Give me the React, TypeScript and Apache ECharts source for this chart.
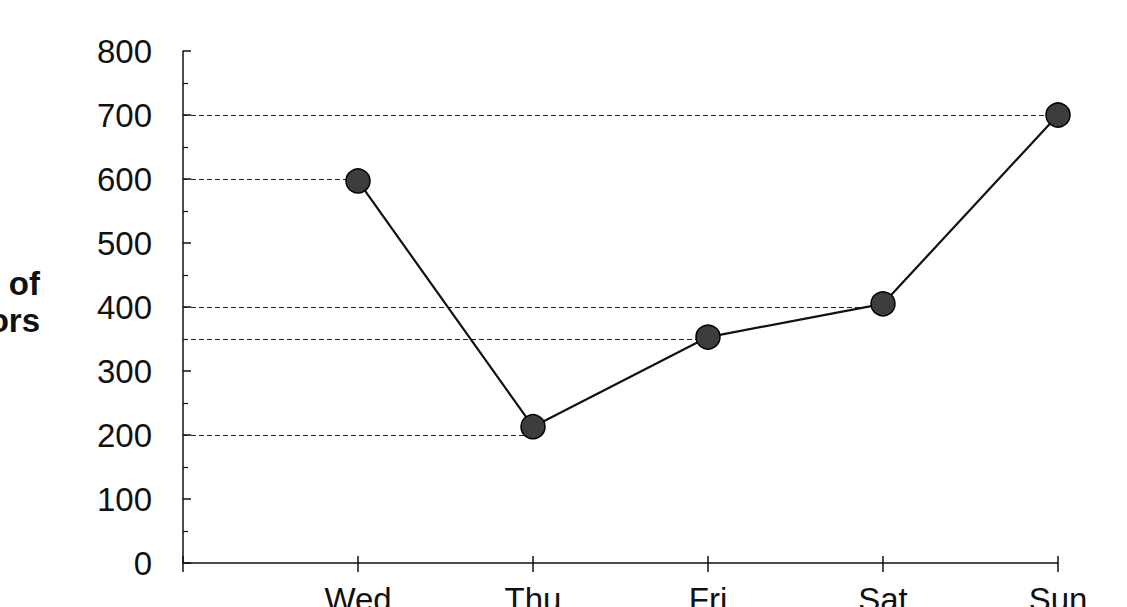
import React, { useEffect, useRef } from "react";
import * as echarts from "echarts";

const categories = ["", "Wed", "Thu", "Fri", "Sat", "Sun"];
const visitors = [null, 597, 213, 353, 405, 700];
const guideDays = ["Sun", "Wed", "Sat", "Fri", "Thu"];
const guideLevels = [700, 600, 400, 350, 200];
const yTicks = { min: 0, max: 800, interval: 100 };
const yAxisTitle = "Number of\nVisitors";

const FONT = "'Liberation Sans', Arial, sans-serif";
const INK = "#111";

export default function App() {
  const ref = useRef<HTMLDivElement>(null);

  useEffect(() => {
    if (!ref.current) return;
    const chart = echarts.init(ref.current, null, { renderer: "svg" });

    const guides = guideDays.map((d, i) => [
      { coord: [0, guideLevels[i]] },
      { coord: [d, guideLevels[i]] },
    ]);

    chart.setOption({
      animation: false,
      backgroundColor: "#fff",
      grid: {
        left: 183,
        right: 69,
        top: 51,
        bottom: 44,
        containLabel: false,
        outerBoundsMode: "none",
      },
      xAxis: [
        {
          type: "category",
          data: categories,
          boundaryGap: false,
          axisLine: { show: true, lineStyle: { color: INK, width: 1.5 } },
          axisTick: { show: true, inside: false, length: 9, lineStyle: { color: INK, width: 1.5 } },
          axisLabel: { color: INK, fontSize: 33, fontFamily: FONT, margin: 20, interval: 0 },
          splitLine: { show: false },
        },
        {
          type: "category",
          data: categories,
          boundaryGap: false,
          position: "bottom",
          axisLine: { show: false },
          axisTick: { show: true, inside: true, length: 7, lineStyle: { color: INK, width: 1.5 } },
          axisLabel: { show: false },
          splitLine: { show: false },
        },
      ],
      yAxis: {
        type: "value",
        min: yTicks.min,
        max: yTicks.max,
        interval: yTicks.interval,
        axisLine: { show: true, lineStyle: { color: INK, width: 1.5 } },
        axisTick: { show: true, inside: true, length: 8, lineStyle: { color: INK, width: 1.5 } },
        minorTick: { show: true, splitNumber: 2, length: 5, lineStyle: { color: INK, width: 1.2 } },
        axisLabel: { color: INK, fontSize: 33, fontFamily: FONT, margin: 31 },
        splitLine: { show: false },
      },
      graphic: [
        {
          type: "text",
          x: 40,
          y: 302,
          style: {
            text: yAxisTitle,
            fill: INK,
            font: `bold 33px ${FONT}`,
            textAlign: "right",
            textVerticalAlign: "middle",
            lineHeight: 37,
          },
        },
      ],
      series: [
        {
          type: "line",
          data: visitors,
          xAxisIndex: 0,
          connectNulls: false,
          symbol: "circle",
          symbolSize: 24,
          lineStyle: { color: INK, width: 2.2 },
          itemStyle: { color: "#3d3d3d", borderColor: "#000", borderWidth: 1.5 },
          z: 3,
          markLine: {
            silent: true,
            symbol: ["none", "none"],
            label: { show: false },
            lineStyle: { color: "#222", width: 1.2, type: [5, 3] },
            data: guides,
            z: 1,
          },
        },
      ],
    });

    return () => chart.dispose();
  }, []);

  return (
    <div
      ref={ref}
      style={{ position: "fixed", left: 0, top: 0, width: 1127, height: 607, background: "#fff" }}
    />
  );
}
